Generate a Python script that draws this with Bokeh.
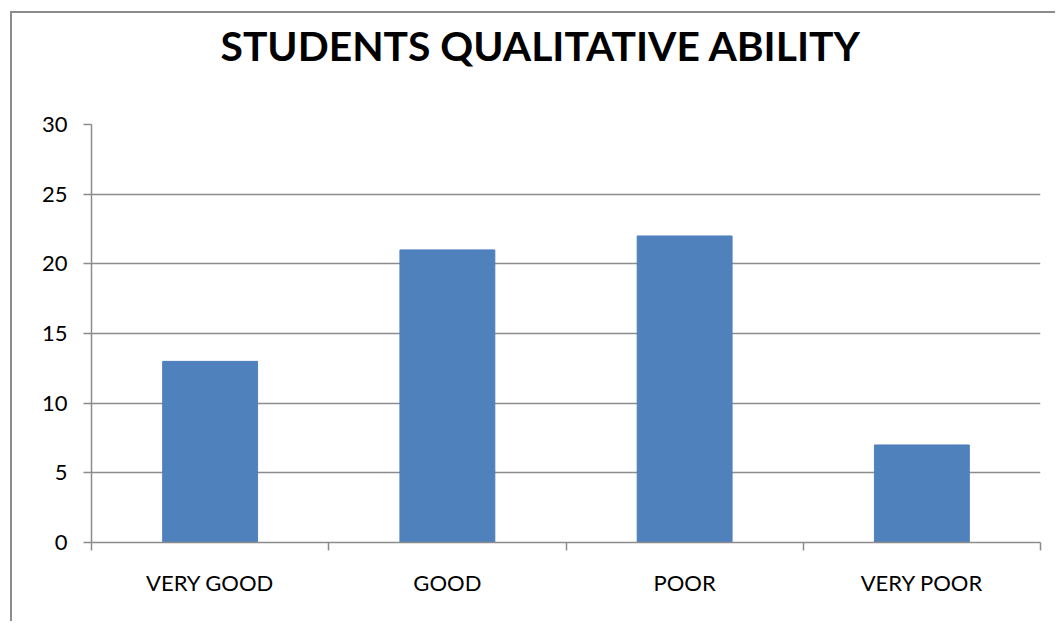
from bokeh.plotting import figure
from bokeh.models import FixedTicker, Range1d, ColumnDataSource, Title
from bokeh.embed import file_html
from bokeh.resources import INLINE

# Survey results: number of students in each ability band
categories = ["VERY GOOD", "GOOD", "POOR", "VERY POOR"]
counts = [13, 21, 22, 7]
y_ticks = [0, 5, 10, 15, 20, 25, 30]
chart_title = "STUDENTS QUALITATIVE ABILITY"

BAR_COLOR = "#4F81BD"
GRID_COLOR = "#8C8C8C"
FONT = "Lato"

centers = [i + 0.5 for i in range(len(categories))]
source = ColumnDataSource(data=dict(x=centers, top=counts, name=categories))

p = figure(
    width=1045, height=610,
    x_range=Range1d(0, len(categories)),
    y_range=Range1d(0, 30),
    output_backend="svg",
    toolbar_location=None,
    min_border_left=79, min_border_right=17,
    min_border_top=111, min_border_bottom=81,
)
p.styles = {
    "border-left": f"2px solid {GRID_COLOR}",
    "border-top": f"2px solid {GRID_COLOR}",
    "margin-left": "10px",
    "margin-top": "11px",
}

# gap between the plot area and the heading
p.add_layout(Title(text=" ", text_font_size="1px", standoff=43), "above")
# heading, stacked above the gap
p.add_layout(Title(
    text=chart_title, text_font=FONT, text_font_style="bold",
    text_font_size="40.8px", text_color="black",
    align="left", offset=129, vertical_align="top", standoff=14,
), "above")

p.vbar(x="x", top="top", width=0.4, source=source, color=BAR_COLOR)

p.outline_line_color = None
p.background_fill_color = "white"
p.border_fill_color = "white"

# horizontal gridlines
p.xgrid.grid_line_color = None
p.ygrid.grid_line_color = GRID_COLOR
p.ygrid.grid_line_width = 1.5

# y axis
p.yaxis.ticker = FixedTicker(ticks=y_ticks)
p.yaxis.axis_line_color = GRID_COLOR
p.yaxis.axis_line_width = 1.5
p.yaxis.major_tick_line_color = GRID_COLOR
p.yaxis.major_tick_line_width = 1.5
p.yaxis.major_tick_out = 8
p.yaxis.major_tick_in = 0
p.yaxis.minor_tick_line_color = None
p.yaxis.major_label_text_font = FONT
p.yaxis.major_label_text_font_size = "22px"
p.yaxis.major_label_text_color = "black"
p.yaxis.major_label_standoff = 16

# x axis: labels at bar centres, tick marks on category boundaries
p.xaxis.ticker = FixedTicker(ticks=centers,
                             minor_ticks=list(range(len(categories) + 1)))
p.xaxis.major_label_overrides = {c: n for c, n in zip(centers, categories)}
p.xaxis.axis_line_color = GRID_COLOR
p.xaxis.axis_line_width = 1.5
p.xaxis.major_tick_line_color = None
p.xaxis.minor_tick_line_color = GRID_COLOR
p.xaxis.minor_tick_line_width = 1.5
p.xaxis.minor_tick_out = 8
p.xaxis.minor_tick_in = 0
p.xaxis.major_label_text_font = FONT
p.xaxis.major_label_text_font_size = "22px"
p.xaxis.major_label_text_color = "black"
p.xaxis.major_label_standoff = 18

open("out.html", "w").write(file_html(p, INLINE))
